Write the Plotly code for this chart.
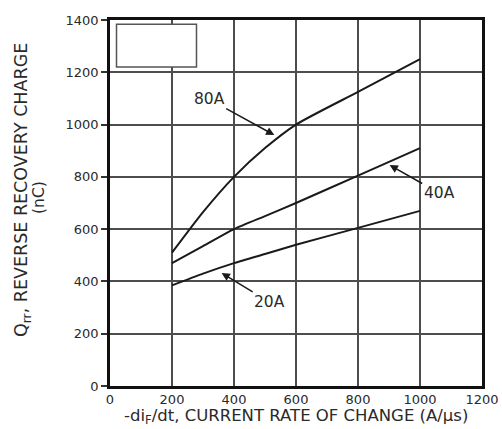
import plotly.graph_objects as go

# Data
di_dt = [200, 300, 400, 500, 600, 800, 1000]
q_80a = [510, 665, 800, 910, 1000, 1125, 1250]
q_40a = [470, 535, 600, 650, 700, 805, 910]
q_20a = [385, 430, 470, 505, 540, 605, 670]

series_names = ["80A", "40A", "20A"]
series_vals = [q_80a, q_40a, q_20a]

x_ticks = [0, 200, 400, 600, 800, 1000, 1200]
y_ticks = [0, 200, 400, 600, 800, 1000, 1200, 1400]

FONT = "DejaVu Sans, Liberation Sans, Arial, sans-serif"
INK = "#2a2a2a"

fig = go.Figure()
for name, vals in zip(series_names, series_vals):
    fig.add_trace(go.Scatter(
        x=di_dt, y=vals, mode="lines", name=name,
        line=dict(color="#1a1a1a", width=2, shape="spline", smoothing=0.6),
        showlegend=False, hoverinfo="skip"))

# Labels with arrows
labels = [
    # text, tip x, tip y, label x, label y
    ("80A", 530, 960, 320, 1097),
    ("40A", 902, 845, 1062, 738),
    ("20A", 360, 432, 515, 321),
]
for txt, tx, ty, lx, ly in labels:
    fig.add_annotation(
        x=tx, y=ty, ax=lx, ay=ly, xref="x", yref="y", axref="x", ayref="y",
        text=txt, showarrow=True, arrowhead=2, arrowsize=1.1, arrowwidth=1.5,
        arrowcolor="#1a1a1a", font=dict(family=FONT, size=15.5, color=INK),
        standoff=0, startstandoff=0)

# White box in the top-left corner
fig.add_shape(type="rect", xref="x", yref="y", x0=21, x1=279, y0=1220, y1=1384,
              line=dict(color="#555555", width=1.5), fillcolor="white", layer="above")

# Axis titles as annotations
fig.add_annotation(
    xref="paper", yref="paper", x=-0.2366, y=0.5355, textangle=-90,
    xanchor="center", yanchor="middle", showarrow=False,
    text="Q<sub>rr</sub>, REVERSE RECOVERY CHARGE",
    font=dict(family=FONT, size=17.5, color=INK))
fig.add_annotation(
    xref="paper", yref="paper", x=-0.1909, y=0.5164, textangle=-90,
    xanchor="center", yanchor="middle", showarrow=False,
    text="(nC)",
    font=dict(family=FONT, size=15.5, color=INK))
fig.add_annotation(
    xref="paper", yref="paper", x=0.4987, y=-0.1175,
    xanchor="center", yanchor="bottom", showarrow=False,
    text="-di<sub>F</sub>/dt, CURRENT RATE OF CHANGE (A/µs)",
    font=dict(family=FONT, size=16.5, color=INK))

axis_common = dict(
    showgrid=True, gridcolor="#4d4d4d", gridwidth=1.8,
    zeroline=False, showline=True, linecolor="#111111", linewidth=2.5,
    mirror=True, automargin=False,
    tickfont=dict(family=FONT, size=13, color=INK),
)

fig.update_xaxes(
    range=[0, 1200], tickvals=x_ticks, ticktext=[str(v) for v in x_ticks],
    ticks="", ticklen=0,
    **axis_common)
fig.update_yaxes(
    range=[0, 1400], tickvals=y_ticks, ticktext=[str(v) for v in y_ticks],
    ticks="outside", ticklen=6, tickcolor="#333333", tickwidth=1.5,
    **axis_common)

fig.update_layout(
    width=502, height=429,
    margin=dict(l=110, r=20, t=20, b=43),
    paper_bgcolor="white", plot_bgcolor="white",
    font=dict(family=FONT, color=INK),
)

fig.write_html(
    "out.html",
    config={"displayModeBar": False},
    post_script="document.body.style.margin='0';document.body.style.overflow='hidden';")
